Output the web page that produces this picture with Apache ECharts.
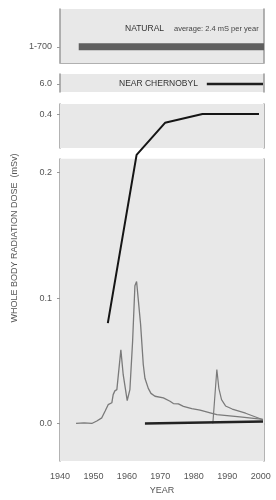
<!DOCTYPE html>
<html>
<head>
<meta charset="utf-8">
<script src="https://cdn.jsdelivr.net/npm/echarts@6/dist/echarts.min.js"></script>
<style>
html, body { margin: 0; padding: 0; background: #fff; }
#chart { width: 276px; height: 500px; }
</style>
</head>
<body>
<div id="chart"></div>
<script>
// axis ticks
const yearTicks = [1940, 1950, 1960, 1970, 1980, 1990, 2000];
const doseTicks = [0, 0.1, 0.2, 0.4];
const naturalRangeLabel = '1-700';

// natural background (bar drawn at the average)
const naturalYears = [1945.6, 2001];
const naturalDose = [2.4, 2.4];

const nearChernobylYears = [1983.9, 2000.7];
const nearChernobylDose = [6.0, 6.0];

const medicalYears = [1954.3, 1962.9, 1971.4, 1982.6, 1999.5];
const medicalDose = [0.080, 0.27, 0.393, 0.400, 0.400];

const explosionYears = [1944.8, 1947.2, 1949.5, 1951.0, 1952.5, 1953.5, 1954.4, 1955.5, 1955.9, 1956.4,
	1957.0, 1958.2, 1958.9, 1960.1, 1960.9, 1961.7, 1962.4, 1962.9, 1963.4, 1964.1,
	1964.9, 1965.4, 1966.4, 1967.2, 1968.4, 1970.9, 1972.9, 1973.9, 1975.4, 1976.9,
	1979.4, 1981.9, 1984.9, 1986.9, 1993.8, 2000.7];
const explosionDose = [0.0, 0.0005, 0.0, 0.002, 0.0045, 0.010, 0.015, 0.0165, 0.023, 0.026,
	0.027, 0.0587, 0.0389, 0.0183, 0.027, 0.065, 0.1098, 0.1132, 0.1124, 0.079,
	0.047, 0.036, 0.028, 0.024, 0.0217, 0.0204, 0.0177, 0.0159, 0.0156, 0.0137,
	0.0119, 0.0106, 0.0085, 0.0071, 0.0053, 0.0032];

const chernobylYears = [1985.7, 1986.9, 1987.5, 1988.3, 1989.5, 1991.5, 1995.5, 2000.7];
const chernobylDose = [0.0, 0.043, 0.028, 0.019, 0.014, 0.0115, 0.0082, 0.003];

const powerYears = [1965.4, 2000.7];
const powerDose = [0.0, 0.0015];

const pairs = (xs, ys) => xs.map((x, i) => [x, ys[i]]);

const panelGray = '#e8e8e8';
const borderGray = '#9a9a9a';
const font = 'Liberation Sans';

const myChart = echarts.init(document.getElementById('chart'));

// one x axis per panel, same years
const xAxisFor = (gridIndex, extra) => Object.assign({
	gridIndex: gridIndex,
	type: 'value',
	min: 1940,
	max: 2001,
	interval: 10,
	splitLine: { show: false },
	axisLine: { show: false },
	axisTick: { show: false },
	axisLabel: { show: false }
}, extra);

// left y axis with labels, right y axis only as a border line
const yLeft = (gridIndex, extra) => Object.assign({
	gridIndex: gridIndex,
	type: 'value',
	position: 'left',
	splitLine: { show: false },
	axisLine: { show: true, lineStyle: { color: borderGray, width: 1.5 } },
	axisTick: { show: true, inside: false, length: 3, lineStyle: { color: borderGray } },
	axisLabel: { color: '#555', fontSize: 9, margin: 8 }
}, extra);
const yRight = (gridIndex, extra) => Object.assign({
	gridIndex: gridIndex,
	type: 'value',
	position: 'right',
	splitLine: { show: false },
	axisLine: { show: true, lineStyle: { color: borderGray, width: 1.5 } },
	axisTick: { show: false },
	axisLabel: { show: false }
}, extra);

const mainRange = {
	min: -0.03,
	max: 0.408,
	breaks: [{ start: 0.211, end: 0.373, gap: '3.07%' }],
	breakArea: {
		show: true,
		itemStyle: { color: 'rgba(0,0,0,0)', borderWidth: 0 },
		zigzagAmplitude: 0,
		expandOnClick: false
	}
};

const option = {
	animation: false,
	textStyle: { fontFamily: font },
	grid: [
		{ left: 60, top: 9, width: 204, height: 54, show: true, backgroundColor: panelGray, borderWidth: 0 },
		{ left: 60, top: 74, width: 204, height: 18, show: true, backgroundColor: panelGray, borderWidth: 0 },
		{ left: 60, top: 104, width: 204, height: 358 }
	],
	xAxis: [
		xAxisFor(0, { position: 'top', axisLine: { show: true, lineStyle: { color: '#b0b0b0', width: 1 } } }),
		xAxisFor(1),
		xAxisFor(2, {
			position: 'bottom',
			name: 'YEAR',
			nameLocation: 'middle',
			nameGap: 22,
			nameTextStyle: { color: '#555', fontSize: 9 },
			axisLine: { show: true, lineStyle: { color: borderGray, width: 1.5 } },
			axisTick: { show: true, length: 3, lineStyle: { color: '#bbb' }, customValues: yearTicks },
			axisLabel: { show: true, color: '#555', fontSize: 9, margin: 11, customValues: yearTicks, formatter: (v) => String(v) }
		})
	],
	yAxis: [
		yLeft(0, {
			min: 0, max: 8,
			axisTick: { show: true, length: 3, lineStyle: { color: borderGray }, customValues: [naturalDose[0]] },
			axisLabel: { color: '#555', fontSize: 9, margin: 8, customValues: [naturalDose[0]], formatter: () => naturalRangeLabel }
		}),
		yRight(0, { min: 0, max: 8 }),
		yLeft(1, {
			min: 5.6, max: 6.5,
			axisTick: { show: true, length: 3, lineStyle: { color: borderGray }, customValues: [nearChernobylDose[0]] },
			axisLabel: { color: '#555', fontSize: 9, margin: 8, customValues: [nearChernobylDose[0]], formatter: (v) => v.toFixed(1) }
		}),
		yRight(1, { min: 5.6, max: 6.5 }),
		yLeft(2, Object.assign({}, mainRange, {
			axisTick: { show: true, length: 3, lineStyle: { color: borderGray }, customValues: doseTicks },
			axisLabel: { color: '#555', fontSize: 9, margin: 8, customValues: doseTicks, formatter: (v) => v.toFixed(1) }
		})),
		yRight(2, Object.assign({}, mainRange))
	],
	series: [
		{
			name: 'Natural',
			type: 'line',
			xAxisIndex: 0,
			yAxisIndex: 0,
			data: pairs(naturalYears, naturalDose),
			symbol: 'none',
			lineStyle: { color: '#5f5f5f', width: 7, cap: 'butt' }
		},
		{
			name: 'Near Chernobyl',
			type: 'line',
			xAxisIndex: 1,
			yAxisIndex: 2,
			data: pairs(nearChernobylYears, nearChernobylDose),
			symbol: 'none',
			lineStyle: { color: '#1e1e1e', width: 2.5 }
		},
		{
			name: 'Nuclear explosions',
			type: 'line',
			xAxisIndex: 2,
			yAxisIndex: 4,
			data: pairs(explosionYears, explosionDose),
			symbol: 'none',
			lineStyle: { color: '#7a7a7a', width: 1.3 },
			markArea: {
				silent: true,
				itemStyle: { color: panelGray },
				data: [
					[{ yAxis: -0.03 }, { yAxis: 0.211 }],
					[{ yAxis: 0.373 }, { yAxis: 0.408 }]
				]
			}
		},
		{
			name: 'Chernobyl',
			type: 'line',
			xAxisIndex: 2,
			yAxisIndex: 4,
			data: pairs(chernobylYears, chernobylDose),
			symbol: 'none',
			lineStyle: { color: '#7a7a7a', width: 1.2 }
		},
		{
			name: 'Nuclear power',
			type: 'line',
			xAxisIndex: 2,
			yAxisIndex: 4,
			data: pairs(powerYears, powerDose),
			symbol: 'none',
			lineStyle: { color: '#222', width: 2.5 }
		},
		{
			name: 'Medical',
			type: 'line',
			xAxisIndex: 2,
			yAxisIndex: 4,
			data: pairs(medicalYears, medicalDose),
			symbol: 'none',
			lineStyle: { color: '#151515', width: 2 }
		}
	],
	graphic: [
		{ type: 'text', x: 15, y: 238, rotation: Math.PI / 2,
			style: { text: 'WHOLE BODY RADIATION DOSE  (mSv)', fontSize: 9, fontFamily: font, fill: '#555', align: 'center', verticalAlign: 'middle' } },
		{ type: 'text', x: 125, y: 29, style: { text: 'NATURAL', fontSize: 8.5, fontFamily: font, fill: '#333', verticalAlign: 'middle' } },
		{ type: 'text', x: 174, y: 29, style: { text: 'average: 2.4 mS per year', fontSize: 7.5, fontFamily: font, fill: '#444', verticalAlign: 'middle' } },
		{ type: 'text', x: 119, y: 84, style: { text: 'NEAR CHERNOBYL', fontSize: 8.5, fontFamily: font, fill: '#333', verticalAlign: 'middle' } },
		{ type: 'text', x: 196, y: 130, style: { text: 'MEDICAL', fontSize: 8.5, fontFamily: font, fill: '#333', verticalAlign: 'middle' } },
		{ type: 'text', x: 145, y: 299, style: { text: 'NUCLEAR EXPLOSIONS', fontSize: 8.5, fontFamily: font, fill: '#333', verticalAlign: 'middle' } },
		{ type: 'text', x: 199, y: 362, style: { text: 'CHERNOBYL', fontSize: 8.5, fontFamily: font, fill: '#333', verticalAlign: 'middle' } },
		{ type: 'text', x: 134, y: 439, style: { text: 'NUCLEAR POWER', fontSize: 8.5, fontFamily: font, fill: '#333', verticalAlign: 'middle' } }
	]
};

myChart.setOption(option);
</script>
</body>
</html>
